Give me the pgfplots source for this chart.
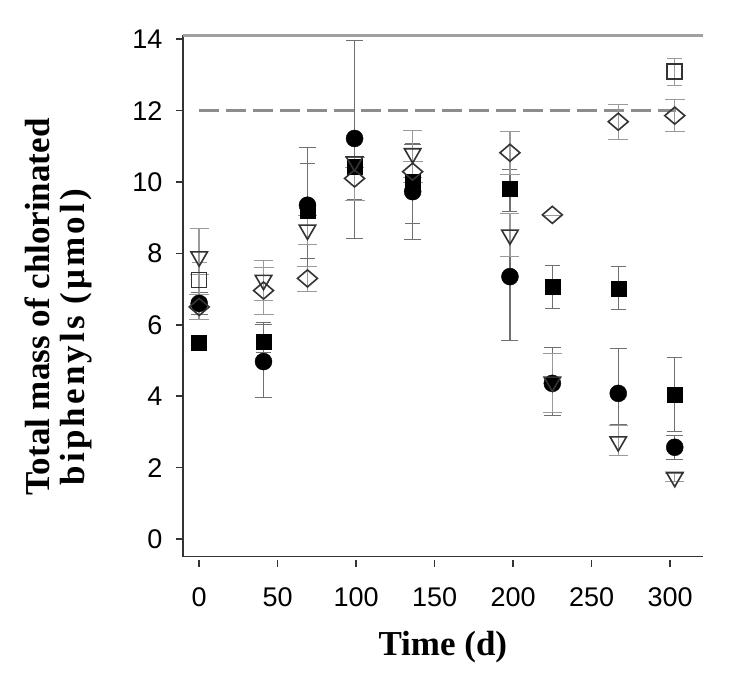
\documentclass[border=0pt]{standalone}
\usepackage{fontspec}
\setmainfont{Liberation Serif}
\newfontfamily\sansf{Liberation Sans}
\usepackage{pgfplots}
\pgfplotsset{compat=1.18}
\definecolor{axgray}{HTML}{333333}
\definecolor{topgray}{HTML}{A0A0A0}
\definecolor{dashgray}{HTML}{8C8C8C}
\definecolor{errdark}{HTML}{707070}
\definecolor{errlight}{HTML}{9A9A9A}
\definecolor{mkgray}{HTML}{333333}
\begin{document}
\begin{tikzpicture}
\useasboundingbox (-182.7pt,-132.5pt) rectangle (567.3pt,556.5pt);
\begin{axis}[
  width=520.3pt, height=521.2pt, scale only axis,
  xmin=-10.5, xmax=321, ymin=-0.49, ymax=14.11,
  axis x line*=bottom, axis y line*=left,
  axis line style={color=axgray, line width=1.8pt, -},
  xtick={0,50,...,300}, ytick={0,2,...,14},
  tick align=outside, major tick length=7pt,
  tick style={color=axgray, line width=1.5pt},
  xtick style={yshift=-3pt},
  /pgf/number format/assume math mode=true,
  ticklabel style={font=\sansf\fontsize{27}{27}\selectfont, inner sep=0pt},
  xticklabel style={anchor=north, yshift=-24pt},
  yticklabel style={anchor=east, xshift=-13pt},
  xlabel={Time (d)},
  ylabel={Total mass of chlorinated\\\hspace*{10pt}{\addfontfeatures{LetterSpace=9}biphenyls (μmol)}},
  every axis x label/.style={at={(axis description cs:0.5,0)}, anchor=base, yshift=-98.5pt, font=\bfseries\fontsize{35}{35}\selectfont, inner sep=0pt},
  every axis y label/.style={at={(axis description cs:0,0.479)}, xshift=-90pt, rotate=90, anchor=south, align=left, font=\bfseries\fontsize{35}{35}\selectfont, inner sep=0pt},
  clip=false,
  error bars/error mark=|,
  error bars/error bar style={line width=1.4pt},
  error bars/error mark options={mark size=6.5pt, line width=1.4pt},
]
% reference line at 12
\addplot[dashgray, line width=3.3pt, dash pattern=on 20pt off 7pt, forget plot] coordinates {(0,12) (304,12)};
% filled circles
\addplot[only marks, mark=*, mark size=8.5pt, color=black,
  error bars/.cd, y dir=both, y explicit, error bar style={color=errdark}, error mark options={color=errdark}]
  table[x=x, y=y, y error plus=ep, y error minus=em] {
x y ep em
0 6.6 0.3 0.3
41 4.97 1.05 1.0
69 9.35 1.63 1.7
99 11.22 2.76 2.79
136 9.73 1.34 1.34
198 7.35 1.78 1.78
225 4.36 1.01 0.89
267 4.08 1.27 0.86
303 2.57 0.33 0.33
};
% filled squares
\addplot[only marks, mark=square*, mark size=7.5pt, color=black,
  error bars/.cd, y dir=both, y explicit, error bar style={color=errdark}, error mark options={color=errdark}]
  table[x=x, y=y, y error plus=ep, y error minus=em] {
x y ep em
0 5.5 0.2 0.2
41 5.53 0.53 0.3
69 9.2 1.32 1.32
99 10.43 0.3 0.9
136 10.0 1.1 1.16
198 9.8 0.56 0.63
225 7.07 0.61 0.61
267 7.02 0.63 0.59
303 4.05 1.05 1.02
};
% open down triangles
\addplot[only marks, mark=triangle, mark size=9.5pt, color=mkgray, mark options={rotate=180, fill=white, line width=1.6pt},
  error bars/.cd, y dir=both, y explicit, error bar style={color=errlight}, error mark options={color=errlight}]
  table[x=x, y=y, y error plus=ep, y error minus=em] {
x y ep em
0 7.91 0.79 0.5
41 7.25 0.55 0.55
69 8.66 0.4 0.4
99 10.57 0.15 0.15
136 10.8 0.66 0.66
198 8.52 0.6 0.6
225 4.4 0.8 0.85
267 2.73 0.45 0.38
303 1.73 0.1 0.1
};
% open diamonds
\addplot[only marks, mark=diamond, mark size=10pt, color=mkgray, mark options={xscale=1.33, yscale=0.85, fill=white, line width=1.6pt},
  error bars/.cd, y dir=both, y explicit, error bar style={color=errlight}, error mark options={color=errlight}]
  table[x=x, y=y, y error plus=ep, y error minus=em] {
x y ep em
0 6.5 0.35 0.35
41 6.96 0.65 0.65
69 7.3 0.35 0.35
99 10.1 0.6 0.6
136 10.29 0.3 0.3
198 10.82 0.59 0.59
225 9.08 0 0
267 11.69 0.5 0.5
303 11.86 0.45 0.45
};
% open squares
\addplot[only marks, mark=square, mark size=7.5pt, color=mkgray, mark options={fill=white, line width=1.6pt},
  error bars/.cd, y dir=both, y explicit, error bar style={color=errlight}, error mark options={color=errlight}]
  table[x=x, y=y, y error plus=ep, y error minus=em] {
x y ep em
0 7.25 0.5 0.5
303 13.09 0.38 0.38
};
\draw[topgray, line width=3pt] (rel axis cs:0,1) -- (rel axis cs:1,1);
\end{axis}
\end{tikzpicture}
\end{document}
